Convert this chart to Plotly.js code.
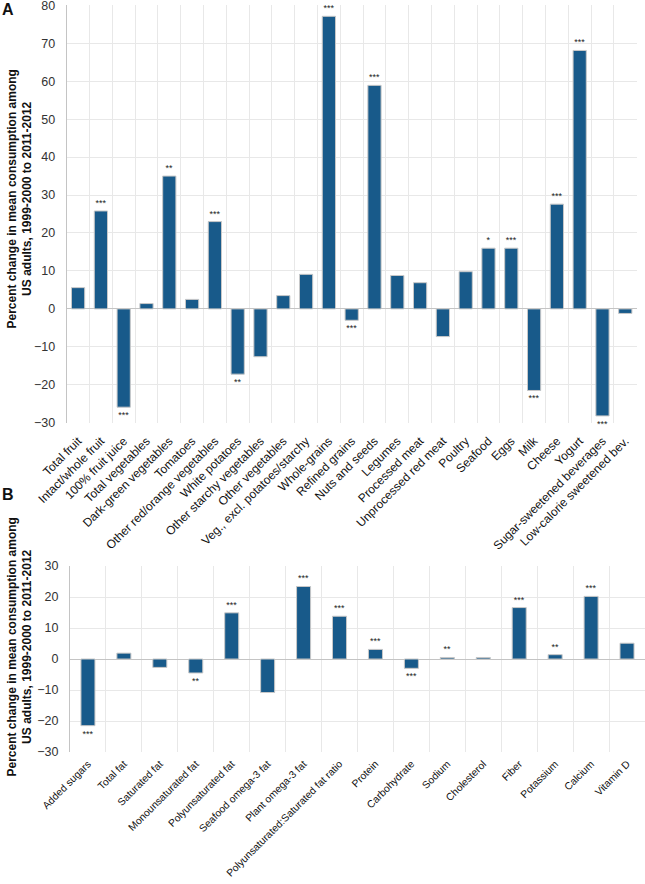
<!DOCTYPE html>
<html>
<head>
<meta charset="utf-8">
<script src="https://cdn.plot.ly/plotly-3.0.1.min.js"></script>
<style>html,body{margin:0;padding:0;background:#fff}#chart{width:645px;height:884px}</style>
</head>
<body>
<div id="chart"></div>
<script>
// Panel A: food groups
const foodCategories = ["Total fruit","Intact/whole fruit","100% fruit juice","Total vegetables","Dark-green vegetables","Tomatoes","Other red/orange vegetables","White potatoes","Other starchy vegetables","Other vegetables","Veg., excl. potatoes/starchy","Whole-grains","Refined grains","Nuts and seeds","Legumes","Processed meat","Unprocessed red meat","Poultry","Seafood","Eggs","Milk","Cheese","Yogurt","Sugar-sweetened beverages","Low-calorie sweetened bev."];
const foodChange = [5.6, 25.8, -25.9, 1.4, 35.0, 2.5, 23.0, -17.2, -12.6, 3.5, 9.1, 77.1, -3.0, 58.9, 8.8, 6.9, -7.3, 9.8, 16.0, 16.0, -21.5, 27.6, 68.1, -28.2, -1.2];
const foodSig = ["","***","***","","**","","***","**","","","","***","***","***","","","","","*","***","***","***","***","***",""];

// Panel B: nutrients
const nutrientCategories = ["Added sugars","Total fat","Saturated fat","Monounsaturated fat","Polyunsaturated fat","Seafood omega-3 fat","Plant omega-3 fat","Polyunsaturated:Saturated fat ratio","Protein","Carbohydrate","Sodium","Cholesterol","Fiber","Potassium","Calcium","Vitamin D"];
const nutrientChange = [-21.5, 1.9, -2.7, -4.5, 14.9, -10.8, 23.4, 13.8, 3.1, -3.0, 0.5, 0.5, 16.6, 1.4, 20.2, 5.1];
const nutrientSig = ["***","","","**","***","","***","***","***","***","**","","***","**","***",""];

const yTitle = "<b>Percent change in mean consumption among<br>US adults, 1999-2000 to 2011-2012</b>";
const FONT = "Liberation Sans, Arial, sans-serif";
const barColor = "#185a8a";
const gridColor = "#e8e8e8";
const axisColor = "#c4c4c4";

const traces = [
  {type:"bar", x:foodCategories, y:foodChange, xaxis:"x", yaxis:"y",
   width:0.58, marker:{color:barColor, line:{color:"#c8c8c8", width:1}},
   text:foodSig, textposition:"outside", cliponaxis:false, constraintext:"none",
   textfont:{size:9, color:"#222", family:FONT}, hoverinfo:"x+y"},
  {type:"bar", x:nutrientCategories, y:nutrientChange, xaxis:"x2", yaxis:"y2",
   width:0.39, marker:{color:barColor, line:{color:"#c8c8c8", width:1}},
   text:nutrientSig, textposition:"outside", cliponaxis:false, constraintext:"none",
   textfont:{size:9, color:"#222", family:FONT}, hoverinfo:"x+y"}
];

const xCommon = {type:"category", tickson:"boundaries", showgrid:true, gridcolor:gridColor,
  tickangle:-45, ticks:"", showline:false, zeroline:false, fixedrange:true};
const yCommon = {dtick:10, showgrid:true, gridcolor:gridColor, zeroline:true, zerolinecolor:axisColor, zerolinewidth:1,
  showline:true, linecolor:axisColor, linewidth:1, ticks:"", ticklabelstandoff:8, ticklabeloverflow:"allow",
  tickfont:{size:12.5, color:"#333", family:FONT}, fixedrange:true};

const layout = {
  width:645, height:884, showlegend:false,
  margin:{l:0, r:0, t:0, b:0},
  paper_bgcolor:"#fff", plot_bgcolor:"#fff",
  font:{family:FONT},
  xaxis:Object.assign({}, xCommon, {domain:[0.1034, 0.9871], anchor:"y", ticklabelstandoff:8,
    tickfont:{size:12, color:"#111", family:FONT}}),
  yaxis:Object.assign({}, yCommon, {domain:[0.5218, 0.9940], range:[-30, 80], anchor:"x"}),
  xaxis2:Object.assign({}, xCommon, {domain:[0.1085, 1.0], anchor:"y2", ticklabelstandoff:3,
    tickfont:{size:10.3, color:"#111", family:FONT}}),
  yaxis2:Object.assign({}, yCommon, {domain:[0.1493, 0.3597], range:[-30, 30], anchor:"x2"}),
  annotations:[
    {text:yTitle, xref:"paper", yref:"paper", x:19.5/645, y:1-199/884, textangle:-90,
     xanchor:"center", yanchor:"middle", showarrow:false, font:{size:12, color:"#111", family:FONT}},
    {text:yTitle, xref:"paper", yref:"paper", x:19.5/645, y:1-647/884, textangle:-90,
     xanchor:"center", yanchor:"middle", showarrow:false, font:{size:12, color:"#111", family:FONT}},
    {text:"<b>A</b>", xref:"paper", yref:"paper", x:0, y:1-10/884, xanchor:"left", yanchor:"middle",
     showarrow:false, font:{size:16, color:"#111", family:FONT}},
    {text:"<b>B</b>", xref:"paper", yref:"paper", x:0, y:1-494/884, xanchor:"left", yanchor:"middle",
     showarrow:false, font:{size:16, color:"#111", family:FONT}}
  ]
};

Plotly.newPlot("chart", traces, layout, {displayModeBar:false, staticPlot:true});
</script>
</body>
</html>
